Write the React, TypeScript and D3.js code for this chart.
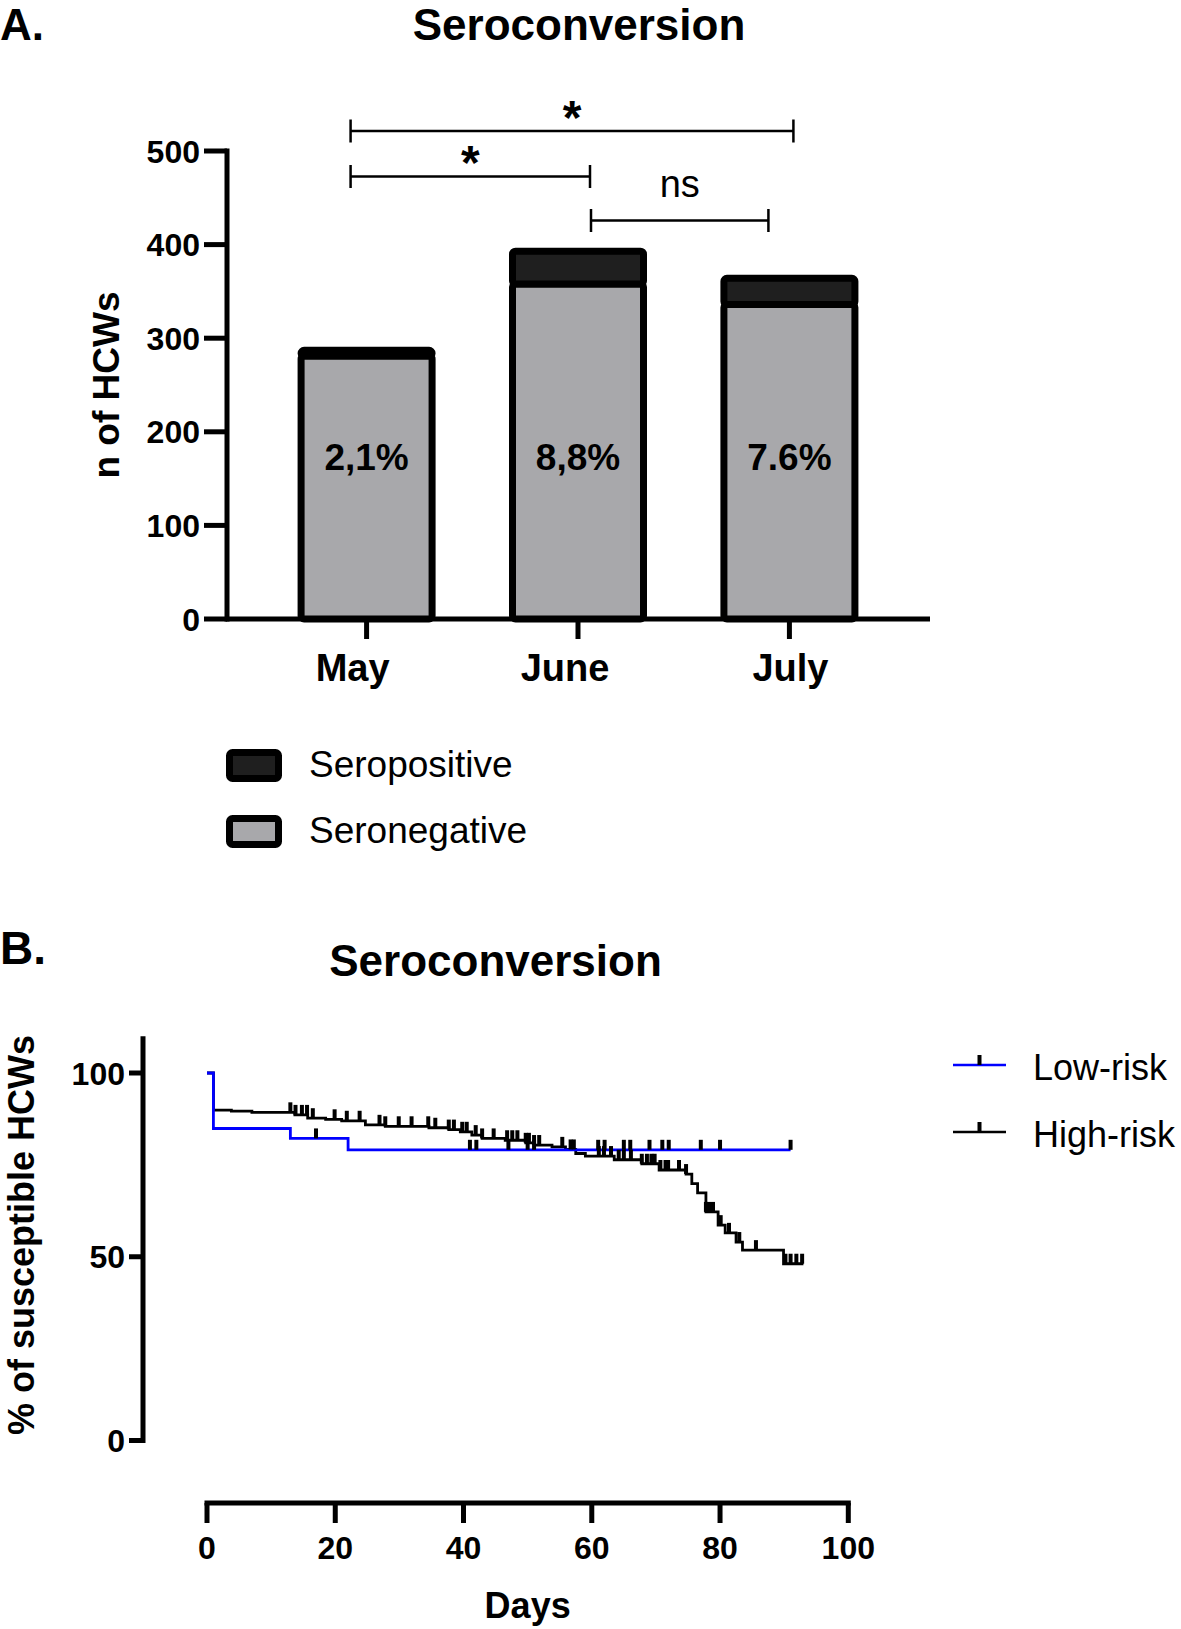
import React from 'react';
import * as d3 from 'd3';

// ---------- Panel A data ----------
const months = ['May', 'June', 'July'];
const seronegative = [281, 358, 336];
const seropositive = [6, 35, 28];
const percentLabels = ['2,1%', '8,8%', '7.6%'];
const yTicksA = [0, 100, 200, 300, 400, 500];
const brackets = [
  { from: 0, to: 2, label: '*' },
  { from: 0, to: 1, label: '*' },
  { from: 1, to: 2, label: 'ns' },
];
const legendA = ['Seropositive', 'Seronegative'];

// ---------- Panel B data ----------
const lowRiskSteps: [number, number][] = [
  [0, 100], [1, 84.9], [13, 82.2], [22, 79.1], [91, 79.1],
];
const highRiskSteps: [number, number][] = [
  [0, 100], [1, 89.9], [3.8, 89.6], [7, 89.3], [13.7, 88.6], [15.7, 87.7],
  [18.5, 87.4], [21, 87.0], [24.7, 85.9], [27.8, 85.5], [34.6, 85.1],
  [37.7, 84.6], [39.5, 84.0], [41.3, 83.1], [42.9, 82.2], [46.5, 81.7],
  [49.7, 81.0], [51, 80.4], [53.8, 79.9], [55.9, 79.2], [57.5, 78.1],
  [59, 77.4], [63.5, 76.4], [67.8, 75.3], [70.5, 73.6], [74.7, 72.5],
  [75.6, 69.9], [76.5, 67.4], [77.8, 62.2], [79.7, 58.6], [80.8, 56.5],
  [82.5, 54.0], [83.5, 51.8], [89.9, 48.1], [93, 48.1],
];
const lowRiskCensored = [17, 41, 42, 47, 50, 51, 61, 62, 65, 66, 69, 71, 72, 77, 80, 91];
const highRiskCensored = [
  13, 13.8, 14.8, 15.6, 16.5, 19.9, 21.8, 23.8, 26.9, 27.8, 29.9, 31.9, 34.5,
  35.6, 37.7, 38.5, 39.8, 40.5, 41.9, 42.9, 44.7, 46.8, 47.6, 48.4, 49.7, 50.2,
  51, 51.8, 55.4, 56.7, 57.2, 61.1, 61.9, 63, 64.2, 65, 66.1, 67.8, 68.6, 69.3,
  69.8, 70.7, 71.5, 71.9, 73.6, 74.7, 77.8, 78.3, 78.9, 80.1, 81.4, 83, 85.6,
  90.2, 91, 91.9, 92.8,
];
const xTicksB = [0, 20, 40, 60, 80, 100];
const yTicksB = [0, 50, 100];
const seriesB = [
  { name: 'Low-risk', color: '#0000ff' },
  { name: 'High-risk', color: '#000000' },
];

const FONT = '"Liberation Sans", Arial, Helvetica, sans-serif';
const GRAY = '#a8a8ab';
const DARK = '#1f1f1f';

function stepValue(steps: [number, number][], t: number) {
  const i = d3.bisector((d: [number, number]) => d[0]).right(steps, t) - 1;
  return steps[Math.max(0, i)][1];
}

export default function App() {
  // Panel A scales
  const xA = d3.scalePoint<string>().domain(months).range([226, 930]).padding(0.665);
  const yA = d3.scaleLinear().domain([0, 500]).range([619, 151]);
  const barW = 131;
  const labelDx = [-14, -13, 1];
  const bracketLayout = [
    { y: 131, dx1: -16, dx2: 4, ly: 134, fs: 48, fw: 700 },
    { y: 176.5, dx1: -16, dx2: 12, ly: 179, fs: 48, fw: 700 },
    { y: 220.5, dx1: 13, dx2: -21, ly: 197, fs: 38, fw: 400 },
  ];

  // Panel B scales
  const xB = d3.scaleLinear().domain([0, 100]).range([207, 848.3]);
  const yB = d3.scaleLinear().domain([0, 100]).range([1440.5, 1073]);
  const line = d3
    .line<[number, number]>()
    .x((d) => xB(d[0]))
    .y((d) => yB(d[1]))
    .curve(d3.curveStepAfter);

  return (
    <svg
      width={1181}
      height={1629}
      style={{ position: 'absolute', left: 0, top: 0, background: '#fff' }}
      fontFamily={FONT}
    >
      <rect x={0} y={0} width={1181} height={1629} fill="#fff" />

      {/* ================= Panel A ================= */}
      <text x={0} y={40} fontSize={44} fontWeight={700}>A.</text>
      <text x={579} y={40} fontSize={44} fontWeight={700} textAnchor="middle">Seroconversion</text>

      {/* y axis */}
      <line x1={227} x2={227} y1={yA(500) - 2.5} y2={yA(0) + 2.5} stroke="#000" strokeWidth={5} />
      {yTicksA.map((t) => (
        <g key={t}>
          <line x1={204} x2={227} y1={yA(t)} y2={yA(t)} stroke="#000" strokeWidth={5} />
          <text x={200} y={yA(t) + 11.5} fontSize={32} fontWeight={700} textAnchor="end">{t}</text>
        </g>
      ))}
      <text
        transform={`translate(119,385) rotate(-90)`}
        fontSize={37}
        fontWeight={700}
        textAnchor="middle"
      >
        n of HCWs
      </text>

      {/* bars */}
      {months.map((m, i) => {
        const cx = xA(m)!;
        const neg = seronegative[i];
        const tot = seronegative[i] + seropositive[i];
        return (
          <g key={m}>
            <rect
              x={cx - barW / 2}
              y={yA(neg)}
              width={barW}
              height={yA(0) - yA(neg)}
              fill={GRAY}
              stroke="#000"
              strokeWidth={7}
              rx={3}
            />
            <rect
              x={cx - barW / 2}
              y={yA(tot)}
              width={barW}
              height={yA(neg) - yA(tot)}
              fill={DARK}
              stroke="#000"
              strokeWidth={7}
              rx={3}
            />
            <text x={cx} y={470} fontSize={37} fontWeight={700} textAnchor="middle">
              {percentLabels[i]}
            </text>
          </g>
        );
      })}

      {/* x axis */}
      <line x1={226} x2={930} y1={yA(0)} y2={yA(0)} stroke="#000" strokeWidth={5} />
      {months.map((m, i) => (
        <g key={m}>
          <line x1={xA(m)!} x2={xA(m)!} y1={yA(0)} y2={639} stroke="#000" strokeWidth={5} />
          <text x={xA(m)! + labelDx[i]} y={681} fontSize={38} fontWeight={700} textAnchor="middle">
            {m}
          </text>
        </g>
      ))}

      {/* significance brackets */}
      {brackets.map((b, i) => {
        const L = bracketLayout[i];
        const x1 = xA(months[b.from])! + L.dx1;
        const x2 = xA(months[b.to])! + L.dx2;
        return (
          <g key={i}>
            <line x1={x1} x2={x2} y1={L.y} y2={L.y} stroke="#000" strokeWidth={2.5} />
            <line x1={x1} x2={x1} y1={L.y - 11.5} y2={L.y + 11.5} stroke="#000" strokeWidth={2.5} />
            <line x1={x2} x2={x2} y1={L.y - 11.5} y2={L.y + 11.5} stroke="#000" strokeWidth={2.5} />
            <text x={(x1 + x2) / 2} y={L.ly} fontSize={L.fs} fontWeight={L.fw} textAnchor="middle">
              {b.label}
            </text>
          </g>
        );
      })}

      {/* legend A */}
      {legendA.map((name, i) => (
        <g key={name}>
          <rect
            x={229.5}
            y={752.5 + i * 66}
            width={49}
            height={26}
            rx={3}
            fill={i === 0 ? DARK : GRAY}
            stroke="#000"
            strokeWidth={7}
          />
          <text x={309} y={777 + i * 66} fontSize={37}>{name}</text>
        </g>
      ))}

      {/* ================= Panel B ================= */}
      <text x={0} y={964} fontSize={46} fontWeight={700}>B.</text>
      <text x={495.5} y={976} fontSize={44} fontWeight={700} textAnchor="middle">Seroconversion</text>

      {/* y axis */}
      <line x1={143} x2={143} y1={yB(110)} y2={yB(0) + 2.5} stroke="#000" strokeWidth={5} />
      {yTicksB.map((t) => (
        <g key={t}>
          <line x1={129} x2={143} y1={yB(t)} y2={yB(t)} stroke="#000" strokeWidth={5} />
          <text x={125} y={yB(t) + 11.5} fontSize={32} fontWeight={700} textAnchor="end">{t}</text>
        </g>
      ))}
      <text
        transform={`translate(34,1235) rotate(-90)`}
        fontSize={36}
        fontWeight={700}
        textAnchor="middle"
      >
        % of susceptible HCWs
      </text>

      {/* x axis */}
      <line x1={xB(0) - 2.5} x2={xB(100) + 2.5} y1={1503} y2={1503} stroke="#000" strokeWidth={5} />
      {xTicksB.map((t) => (
        <g key={t}>
          <line x1={xB(t)} x2={xB(t)} y1={1503} y2={1523} stroke="#000" strokeWidth={5} />
          <text x={xB(t)} y={1559} fontSize={32} fontWeight={700} textAnchor="middle">{t}</text>
        </g>
      ))}
      <text x={(xB(0) + xB(100)) / 2} y={1618} fontSize={36} fontWeight={700} textAnchor="middle">
        Days
      </text>

      {/* curves */}
      <path d={line(highRiskSteps)!} fill="none" stroke={seriesB[1].color} strokeWidth={2.8} />
      <path d={line(lowRiskSteps)!} fill="none" stroke={seriesB[0].color} strokeWidth={2.8} />
      {lowRiskCensored.map((t, i) => (
        <line
          key={'l' + i}
          x1={xB(t)}
          x2={xB(t)}
          y1={yB(stepValue(lowRiskSteps, t))}
          y2={yB(stepValue(lowRiskSteps, t)) - 10}
          stroke="#000"
          strokeWidth={4}
        />
      ))}
      {highRiskCensored.map((t, i) => (
        <line
          key={'h' + i}
          x1={xB(t)}
          x2={xB(t)}
          y1={yB(stepValue(highRiskSteps, t))}
          y2={yB(stepValue(highRiskSteps, t)) - 10}
          stroke="#000"
          strokeWidth={4}
        />
      ))}

      {/* legend B */}
      {seriesB.map((s, i) => {
        const ly = 1065 + i * 67;
        return (
          <g key={s.name}>
            <line x1={953} x2={1006} y1={ly} y2={ly} stroke={s.color} strokeWidth={2.6} />
            <line x1={979.5} x2={979.5} y1={ly} y2={ly - 10} stroke="#000" strokeWidth={4} />
            <text x={1033} y={ly + 15} fontSize={36}>{s.name}</text>
          </g>
        );
      })}
    </svg>
  );
}
